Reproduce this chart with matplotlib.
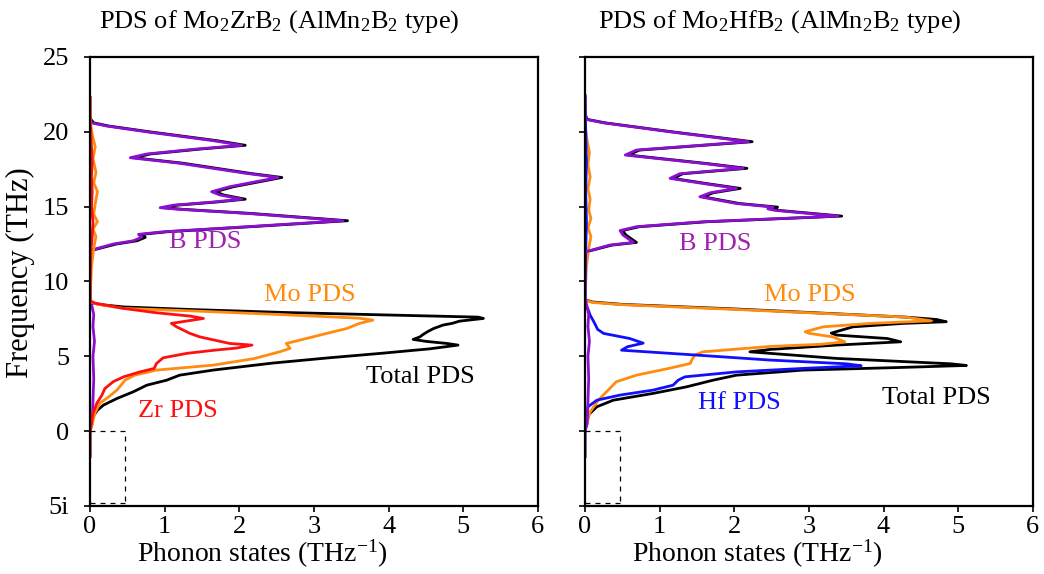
import matplotlib
matplotlib.use("Agg")
import matplotlib.pyplot as plt

plt.rcParams['font.family'] = ['Liberation Serif', 'DejaVu Serif']
plt.rcParams['mathtext.fontset'] = 'custom'
plt.rcParams['mathtext.rm'] = 'Liberation Serif'
plt.rcParams['mathtext.it'] = 'Liberation Serif:italic'

# ---------------- Mo2ZrB2 (left) ----------------
tot_L_f = [-1.7, 0.0, 0.5, 0.96, 1.4, 1.74, 2.18, 2.63, 3.07, 3.41, 3.74, 4.08, 4.55, 4.9, 5.2, 5.5,
           5.75, 5.86, 6.0, 6.13, 6.3, 6.45, 6.64, 6.85, 7.09, 7.2, 7.35, 7.53, 7.62, 7.76, 7.93,
           8.13, 8.3, 8.45, 8.55, 8.7, 11.9, 12.1, 12.5, 12.72, 12.95, 13.15, 13.32, 13.66, 14.06,
           14.55, 14.82, 14.93, 15.1, 15.31, 15.5, 15.78, 16.0, 16.33, 16.95, 17.22, 17.9, 18.27,
           18.52, 18.85, 19.1, 19.41, 20.0, 20.39, 20.6, 20.9, 22.3]
tot_L_s = [0, 0, 0.01, 0.04, 0.1, 0.18, 0.36, 0.58, 0.76, 1.03, 1.2, 1.65, 2.45, 3.2, 3.9, 4.55,
           4.93, 4.78, 4.5, 4.33, 4.42, 4.46, 4.52, 4.6, 4.73, 4.85, 4.95, 5.27, 5.2, 4.0, 2.6,
           1.34, 0.45, 0.15, 0.05, 0, 0, 0.04, 0.35, 0.63, 0.74, 0.7, 1.03, 2.15, 3.45,
           2.15, 1.25, 0.99, 1.17, 1.7, 2.08, 1.79, 1.68, 1.92, 2.57, 2.15, 1.25, 0.59,
           0.81, 1.48, 2.08, 1.7, 0.8, 0.25, 0.05, 0, 0]

mo_L_f = [0.0, 0.5, 1.25, 1.85, 2.29, 2.74, 3.1, 3.41, 3.74, 4.08, 4.41, 4.85, 5.3, 5.53, 5.86,
          6.08, 6.53, 6.86, 7.2, 7.42, 7.55, 7.78, 8.04, 8.2, 8.49, 8.65, 11.0, 12.2, 13.0,
          13.5, 14.0, 14.5, 15.2, 16.0, 16.6, 17.3, 18.2, 19.0, 19.8, 20.5, 21.0, 22.3]
mo_L_s = [0, 0.03, 0.07, 0.13, 0.25, 0.36, 0.42, 0.47, 0.6, 0.89, 1.65, 2.2, 2.54, 2.68, 2.63,
          2.81, 3.17, 3.44, 3.61, 3.79, 3.6, 2.6, 1.34, 0.45, 0.09, 0, 0.02, 0.05, 0.08,
          0.04, 0.1, 0.05, 0.07, 0.1, 0.05, 0.08, 0.04, 0.07, 0.03, 0.01, 0, 0]

zr_L_f = [-1.7, 0.0, 0.5, 1.18, 1.85, 2.41, 2.85, 3.3, 3.63, 3.96, 4.19, 4.52, 4.9, 5.2, 5.4,
          5.55, 5.75, 5.86, 6.3, 6.53, 6.97, 7.2, 7.53, 7.69, 7.91, 8.2, 8.55, 8.7, 12.0, 13.0,
          14.0, 15.0, 16.0, 17.0, 18.0, 19.0, 20.0, 21.0, 22.3]
zr_L_s = [0, 0, 0.02, 0.04, 0.09, 0.16, 0.2, 0.31, 0.45, 0.67, 0.86, 0.89, 0.98, 1.3, 1.65,
          1.96, 2.17, 1.87, 1.47, 1.34, 1.16, 1.09, 1.52, 1.34, 0.89, 0.45, 0.07, 0, 0.01, 0.03,
          0.04, 0.02, 0.03, 0.02, 0.03, 0.02, 0.01, 0, 0]

b_L_f = [0.0, 0.5, 2.0, 3.5, 5.0, 6.0, 7.0, 7.8, 8.5, 9.0, 11.9, 12.1, 12.5, 12.72, 12.95, 13.15,
         13.32, 13.66, 14.06, 14.55, 14.82, 14.93, 15.1, 15.31, 15.5, 15.78, 16.0, 16.33, 16.95,
         17.22, 17.9, 18.27, 18.52, 18.85, 19.1, 19.41, 20.0, 20.39, 20.6, 20.9]
b_L_s = [0, 0.03, 0.04, 0.05, 0.04, 0.06, 0.04, 0.05, 0.02, 0, 0, 0.02, 0.31, 0.58, 0.69, 0.65,
         0.98, 2.1, 3.39, 2.1, 1.2, 0.94, 1.12, 1.65, 2.03, 1.74, 1.63, 1.87, 2.52,
         2.1, 1.2, 0.54, 0.76, 1.43, 2.03, 1.65, 0.76, 0.22, 0.02, 0]

# ---------------- Mo2HfB2 (right) ----------------
tot_R_f = [-1.7, 0.0, 0.5, 0.96, 1.63, 2.07, 2.52, 2.96, 3.41, 3.74, 4.08, 4.26, 4.39, 4.5,
           4.86, 5.3, 5.46, 5.75, 5.97, 6.19, 6.42, 6.55, 6.97, 7.2, 7.31, 7.46, 7.62, 8.16,
           8.47, 8.63, 8.78, 11.9, 12.0, 12.43, 12.61, 13.1, 13.4, 13.66, 13.99, 14.37, 14.75,
           14.85, 14.97, 15.21, 15.66, 15.93, 16.22, 16.55, 16.89, 17.2, 17.56, 17.89, 18.45,
           18.78, 19.34, 20.0, 20.6, 20.83, 21.2, 22.4]
tot_R_s = [0, 0, 0.01, 0.02, 0.16, 0.38, 0.91, 1.36, 1.72, 2.03, 2.92, 4.26, 5.11, 4.9,
           3.37, 2.21, 2.48, 3.37, 4.23, 4.05, 3.37, 3.3, 3.59, 4.26, 4.84, 4.71, 4.3, 2.03,
           0.5, 0.1, 0, 0, 0.03, 0.36, 0.69, 0.55, 0.5, 0.73, 1.63, 3.44, 2.6,
           2.5, 2.58, 2.07, 1.58, 1.72, 2.08, 1.62, 1.18, 1.31, 2.17, 1.62, 0.58,
           0.73, 2.24, 1.17, 0.27, 0.03, 0, 0]

mo_R_f = [0.0, 0.6, 1.29, 2.07, 2.74, 3.3, 3.74, 4.19, 4.52, 4.74, 5.08, 5.3, 5.66, 5.8, 5.97,
          6.3, 6.53, 6.64, 6.97, 7.2, 7.37, 7.62, 8.13, 8.45, 8.6, 8.75, 11.0, 12.2, 13.0,
          13.6, 14.2, 14.8, 15.5, 16.2, 17.0, 17.8, 18.6, 19.4, 20.2, 21.0, 22.4]
mo_R_s = [0, 0.03, 0.07, 0.18, 0.31, 0.42, 0.69, 1.12, 1.41, 1.43, 1.47, 1.58, 2.48, 3.15, 3.48,
          3.32, 3.01, 2.95, 3.19, 3.82, 4.64, 4.3, 2.03, 0.5, 0.1, 0, 0.02, 0.05, 0.08,
          0.04, 0.08, 0.05, 0.07, 0.04, 0.07, 0.04, 0.06, 0.03, 0.01, 0, 0]

hf_R_f = [0.0, 0.8, 1.63, 2.07, 2.41, 2.74, 3.07, 3.41, 3.63, 3.96, 4.19, 4.37, 4.5, 4.75, 5.08,
          5.3, 5.41, 5.64, 5.88, 6.19, 6.53, 6.8, 7.3, 7.75, 8.15, 8.6, 12.0, 14.0, 16.0, 18.0,
          20.0, 22.4]
hf_R_s = [0, 0.02, 0.04, 0.16, 0.47, 0.91, 1.18, 1.25, 1.34, 2.03, 2.92, 3.70, 3.5, 2.48, 1.5,
          0.83, 0.49, 0.57, 0.78, 0.6, 0.25, 0.17, 0.12, 0.07, 0.04, 0, 0.01, 0.02, 0.01, 0.02,
          0.01, 0]

b_R_f = [-1.7, 0.0, 0.5, 2.0, 3.5, 5.0, 6.0, 7.0, 7.8, 8.5, 9.0, 11.9, 12.0, 12.43, 12.61,
         13.1, 13.4, 13.66, 13.99, 14.37, 14.75, 14.85, 14.97, 15.21, 15.66, 15.93, 16.22,
         16.55, 16.89, 17.2, 17.56, 17.89, 18.45, 18.78, 19.34, 20.0, 20.6, 20.83, 21.2, 22.4]
b_R_s = [0, 0, 0.03, 0.04, 0.05, 0.04, 0.06, 0.04, 0.05, 0.02, 0, 0, 0.02, 0.33, 0.65,
         0.51, 0.47, 0.69, 1.58, 3.39, 2.55, 2.45, 2.52, 2.03, 1.54, 1.68, 2.03,
         1.58, 1.14, 1.27, 2.12, 1.58, 0.54, 0.69, 2.19, 1.14, 0.25, 0.02, 0, 0]

gap_x = [0.0, 0.47, 0.47]
gap_y = [0.0, 0.0, -4.8]

PURPLE = '#8a10d0'
ORANGE = '#ff8c10'
RED = '#ff1010'
BLUE = '#1010ff'
LW = 2.0

fig = plt.figure(figsize=(10.44, 5.74), dpi=100)
axL = fig.add_axes([0.0862, 0.1185, 0.429, 0.7822])
axR = fig.add_axes([0.5603, 0.1185, 0.429, 0.7822])

axL.plot(tot_L_s, tot_L_f, color='black', lw=LW)
axL.plot(b_L_s, b_L_f, color=PURPLE, lw=LW)
axL.plot(mo_L_s, mo_L_f, color=ORANGE, lw=LW)
axL.plot(zr_L_s, zr_L_f, color=RED, lw=LW)

axR.plot(tot_R_s, tot_R_f, color='black', lw=LW)
axR.plot(mo_R_s, mo_R_f, color=ORANGE, lw=LW)
axR.plot(hf_R_s, hf_R_f, color=BLUE, lw=LW)
axR.plot(b_R_s, b_R_f, color=PURPLE, lw=LW)

for ax in (axL, axR):
    ax.plot(gap_x, gap_y, color='black', lw=0.9, ls=(0, (4, 4)))
    ax.plot([0.0, 0.47], [-4.8, -4.8], color='black', lw=0.9, ls=(0, (4, 4)))
    ax.set_xlim(0, 6)
    ax.set_ylim(-5, 25)
    ax.set_xticks([0, 1, 2, 3, 4, 5, 6])
    ax.set_yticks([-5, 0, 5, 10, 15, 20, 25])
    ax.tick_params(direction='out', length=4, width=1.2, labelsize=19)
    ax.tick_params(axis='y', pad=11)
    for sp in ax.spines.values():
        sp.set_linewidth(1.6)
    ax.set_xlabel('Phonon states (THz$^{-1}$)', fontsize=20)
    ax.xaxis.set_label_coords(0.385, -0.07)

axL.set_yticklabels(['5i', '0', '5', '10', '15', '20', '25'])
axR.set_yticklabels([])
axL.set_ylabel('Frequency (THz)', fontsize=22)
axL.yaxis.set_label_coords(-0.122, 0.52)

axL.text(0.02, 1.078, 'PDS of Mo$_2$ZrB$_2$ (AlMn$_2$B$_2$ type)', transform=axL.transAxes,
         fontsize=19, ha='left', va='center')
axR.text(0.03, 1.078, 'PDS of Mo$_2$HfB$_2$ (AlMn$_2$B$_2$ type)', transform=axR.transAxes,
         fontsize=19, ha='left', va='center')

fs = 19
axL.text(1.54, 12.63, 'B PDS', color='#a020b0', fontsize=fs, ha='center', va='center')
axL.text(2.95, 9.1, 'Mo PDS', color=ORANGE, fontsize=fs, ha='center', va='center')
axL.text(4.43, 3.6, 'Total PDS', color='black', fontsize=fs, ha='center', va='center')
axL.text(1.18, 1.34, 'Zr PDS', color=RED, fontsize=fs, ha='center', va='center')

axR.text(1.74, 12.5, 'B PDS', color='#a020b0', fontsize=fs, ha='center', va='center')
axR.text(3.01, 9.1, 'Mo PDS', color=ORANGE, fontsize=fs, ha='center', va='center')
axR.text(2.07, 1.87, 'Hf PDS', color=BLUE, fontsize=fs, ha='center', va='center')
axR.text(4.71, 2.2, 'Total PDS', color='black', fontsize=fs, ha='center', va='center')

fig.savefig('out.png', dpi=100)
